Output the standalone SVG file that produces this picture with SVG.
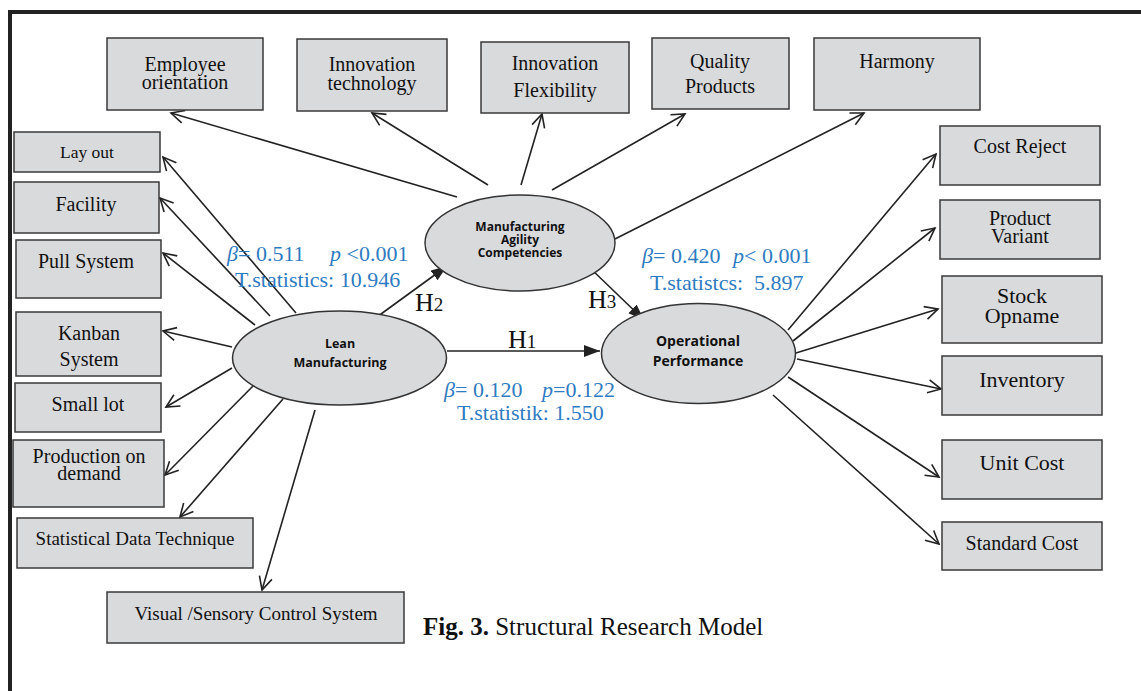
<svg xmlns="http://www.w3.org/2000/svg" width="1141" height="691" viewBox="0 0 1141 691">
<style>
.box{fill:#d9dadc;stroke:#3a3a3a;stroke-width:1.5}
.ell{fill:#d9dadc;stroke:#333;stroke-width:1.5}
.t{font-family:"Liberation Serif","Times New Roman",serif;fill:#111;text-anchor:middle}
.s{font-family:"Open Sans","Liberation Sans",sans-serif;font-weight:700;fill:#111;text-anchor:middle}
.b{font-family:"Liberation Serif","Times New Roman",serif;fill:#2f7bc1;font-size:22px;white-space:pre}
.i{font-style:italic}
.h{font-family:"Liberation Serif","Times New Roman",serif;fill:#111;font-size:26px}
.con line{stroke:#222;stroke-width:1.6}
.o{marker-end:url(#open)}
.f{marker-end:url(#fill)}
</style>
<defs>
<marker id="open" markerUnits="userSpaceOnUse" markerWidth="16" markerHeight="16" refX="13" refY="6.5" orient="auto" viewBox="-1 -1 16 16">
<path d="M0,0 L13,6.5 L0,13" fill="none" stroke="#222" stroke-width="1.6"/>
</marker>
<marker id="fill" markerUnits="userSpaceOnUse" markerWidth="18" markerHeight="14" refX="16" refY="6" orient="auto" viewBox="0 0 18 14">
<path d="M0,0 L16,6 L0,12 z" fill="#222"/>
</marker>
</defs>
<rect x="0" y="0" width="1141" height="691" fill="#fff"/>
<path d="M10,691 V12 H1141" fill="none" stroke="#222" stroke-width="4"/>

<g class="con">
<line class="o" x1="296" y1="313" x2="163" y2="157"/>
<line class="o" x1="270" y1="316" x2="160" y2="198"/>
<line class="o" x1="255" y1="325" x2="163" y2="253"/>
<line class="o" x1="232" y1="347" x2="163" y2="331"/>
<line class="o" x1="232" y1="368" x2="166" y2="407"/>
<line class="o" x1="255" y1="384" x2="165" y2="475"/>
<line class="o" x1="283" y1="399" x2="180" y2="517"/>
<line class="o" x1="315" y1="410" x2="262" y2="590"/>
<line class="f" x1="370" y1="322" x2="447" y2="266"/>
<line class="f" x1="447" y1="351" x2="600" y2="351"/>
<line class="o" x1="457" y1="197" x2="171" y2="113"/>
<line class="o" x1="488" y1="185" x2="372" y2="113"/>
<line class="o" x1="521" y1="185" x2="542" y2="114"/>
<line class="o" x1="552" y1="190" x2="685" y2="114"/>
<line class="o" x1="615" y1="239" x2="864" y2="113"/>
<line class="f" x1="589" y1="267" x2="644" y2="320"/>
<line class="o" x1="788" y1="330" x2="936" y2="154"/>
<line class="o" x1="793" y1="341" x2="935" y2="228"/>
<line class="o" x1="796" y1="353" x2="938" y2="309"/>
<line class="o" x1="797" y1="359" x2="941" y2="389"/>
<line class="o" x1="788" y1="377" x2="939" y2="477"/>
<line class="o" x1="773" y1="395" x2="939" y2="544"/>
</g>

<g id="employee-orientation"><rect class="box" x="107" y="38" width="156" height="72"/><text class="t" font-size="20" x="185" y="71">Employee</text><text class="t" font-size="20" x="185" y="89">orientation</text></g>
<g id="innovation-technology"><rect class="box" x="297" y="39" width="150" height="72"/><text class="t" font-size="20" x="372" y="71">Innovation</text><text class="t" font-size="20" x="372" y="90">technology</text></g>
<g id="innovation-flexibility"><rect class="box" x="481" y="42" width="148" height="71"/><text class="t" font-size="20" x="555" y="70">Innovation</text><text class="t" font-size="20" x="555" y="97">Flexibility</text></g>
<g id="quality-products"><rect class="box" x="652" y="38" width="137" height="71"/><text class="t" font-size="20" x="720" y="68">Quality</text><text class="t" font-size="20" x="720" y="93">Products</text></g>
<g id="harmony"><rect class="box" x="814" y="38" width="166" height="72"/><text class="t" font-size="20" x="897" y="68">Harmony</text></g>

<g id="cost-reject"><rect class="box" x="940" y="126" width="160" height="59"/><text class="t" font-size="20" x="1020" y="153">Cost Reject</text></g>
<g id="product-variant"><rect class="box" x="940" y="200" width="160" height="59"/><text class="t" font-size="20" x="1020" y="225">Product</text><text class="t" font-size="20" x="1020" y="243">Variant</text></g>
<g id="stock-opname"><rect class="box" x="942" y="276" width="160" height="67"/><text class="t" font-size="22" x="1022" y="303">Stock</text><text class="t" font-size="22" x="1022" y="323">Opname</text></g>
<g id="inventory"><rect class="box" x="942" y="356" width="160" height="59"/><text class="t" font-size="22" x="1022" y="387">Inventory</text></g>
<g id="unit-cost"><rect class="box" x="942" y="440" width="160" height="59"/><text class="t" font-size="22" x="1022" y="470">Unit Cost</text></g>
<g id="standard-cost"><rect class="box" x="942" y="522" width="160" height="48"/><text class="t" font-size="20" x="1022" y="550">Standard Cost</text></g>

<g id="lay-out"><rect class="box" x="14" y="132" width="146" height="40"/><text class="t" font-size="17.5" x="87" y="158">Lay out</text></g>
<g id="facility"><rect class="box" x="14" y="182" width="145" height="51"/><text class="t" font-size="20" x="86" y="211">Facility</text></g>
<g id="pull-system"><rect class="box" x="16" y="240" width="145" height="58"/><text class="t" font-size="20" x="86" y="268">Pull System</text></g>
<g id="kanban-system"><rect class="box" x="16" y="312" width="145" height="64"/><text class="t" font-size="20" x="89" y="340">Kanban</text><text class="t" font-size="20" x="89" y="366">System</text></g>
<g id="small-lot"><rect class="box" x="15" y="383" width="146" height="49"/><text class="t" font-size="20" x="88" y="411">Small lot</text></g>
<g id="production-on-demand"><rect class="box" x="13" y="440" width="151" height="67"/><text class="t" font-size="20" x="89" y="463">Production on</text><text class="t" font-size="20" x="89" y="480">demand</text></g>
<g id="statistical-data-technique"><rect class="box" x="17" y="518" width="236" height="50"/><text class="t" font-size="19" x="135" y="545">Statistical Data Technique</text></g>
<g id="visual-sensory-control-system"><rect class="box" x="107" y="592" width="297" height="51"/><text class="t" font-size="19" x="256" y="620">Visual /Sensory Control System</text></g>

<g id="lean-manufacturing"><ellipse class="ell" cx="339.5" cy="358" rx="107" ry="47"/><text class="s" font-size="12.5" x="340" y="348">Lean</text><text class="s" font-size="12.5" x="340" y="367">Manufacturing</text></g>
<g id="manufacturing-agility"><ellipse class="ell" cx="520" cy="243" rx="95" ry="48"/><text class="s" font-size="12" x="520" y="230.5">Manufacturing</text><text class="s" font-size="12" x="520" y="243.5">Agility</text><text class="s" font-size="12" x="520" y="256.5">Competencies</text></g>
<g id="operational-performance"><ellipse class="ell" cx="698.5" cy="353.5" rx="97" ry="50"/><text class="s" font-size="14" x="698" y="346">Operational</text><text class="s" font-size="14" x="698" y="366">Performance</text></g>

<g id="labels">
<text class="b" x="227" y="261"><tspan class="i">β</tspan>= 0.511</text>
<text class="b" x="330" y="261"><tspan class="i">p</tspan> &lt;0.001</text>
<text class="b" x="235" y="287">T.statistics: 10.946</text>
<text class="b" x="642" y="263"><tspan class="i">β</tspan>= 0.420</text>
<text class="b" x="733" y="263"><tspan class="i">p</tspan>&lt; 0.001</text>
<text class="b" x="650" y="290">T.statistcs:  5.897</text>
<text class="b" x="444" y="397"><tspan class="i">β</tspan>= 0.120</text>
<text class="b" x="542" y="397"><tspan class="i">p</tspan>=0.122</text>
<text class="b" x="457" y="420">T.statistik: 1.550</text>
<text class="h" x="415" y="311">H<tspan font-size="19">2</tspan></text>
<text class="h" x="508" y="348">H<tspan font-size="19">1</tspan></text>
<text class="h" x="588" y="308">H<tspan font-size="19">3</tspan></text>
<text font-family="Liberation Serif, Times New Roman, serif" font-size="25" fill="#111" x="423" y="635"><tspan font-weight="700">Fig. 3.</tspan> Structural Research Model</text>
</g>
</svg>
